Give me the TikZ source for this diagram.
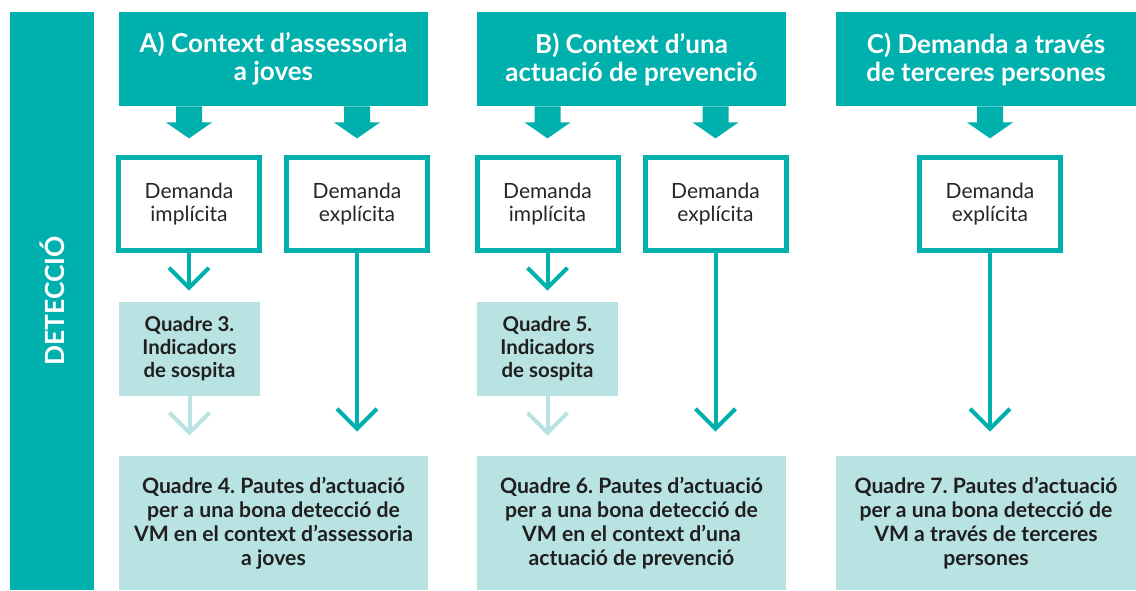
\documentclass[tikz,border=0pt]{standalone}
\usepackage{fontspec}
\setmainfont{Lato}
\usetikzlibrary{arrows.meta}
\frenchspacing
\definecolor{tealdark}{HTML}{00B0AD}
\definecolor{tealpale}{HTML}{B9E2E2}
\tikzset{
  context/.style={fill=tealdark, text=white, inner sep=0pt, align=center,
                  minimum width=154.5pt, minimum height=47pt,
                  font=\bfseries\fontsize{13}{14}\selectfont},
  demand/.style={draw=tealdark, line width=2.5pt, fill=white, inner sep=0pt,
                 minimum width=70.5pt, minimum height=46.5pt, align=center,
                 text=black!85, font=\fontsize{10.5}{11.5}\selectfont},
  guide/.style={fill=tealpale, text=black!88, inner sep=0pt, align=center,
                font=\bfseries\fontsize{10.2}{11.5}\selectfont},
  link/.style={draw=tealdark, line width=2pt,
               -{Straight Barb[length=10pt, width=20pt]}},
  faint/.style={link, draw=tealpale}
}

\begin{document}
\begin{tikzpicture}[x=0.5pt, y=-0.5pt]

        \useasboundingbox (0,0) rectangle (1136,590);

        % --- Side bar
        \node[fill=tealdark, text=white, rotate=90, inner sep=0pt,
              minimum width=289pt, minimum height=42pt,
              font=\bfseries\fontsize{13.2}{14}\selectfont] (det) at (52,301) {DETECCIÓ};

        % --- Contexts
        \node[context] (ctxA) at (273.5,59) {A) Context d’assessoria\\a joves};
        \node[context] (ctxB) at (631.5,59) {B) Context d’una\\actuació de prevenció};
        \node[context, minimum width=150pt] (ctxC) at (986,59) {C) Demanda a través\\de terceres persones};

        % --- Demands
        \node[demand] (impA) at (189,204) {Demanda\\implícita};
        \node[demand] (expA) at (357,204) {Demanda\\explícita};
        \node[demand] (impB) at (547.5,204) {Demanda\\implícita};
        \node[demand] (expB) at (715.5,204) {Demanda\\explícita};
        \node[demand] (expC) at (990,204) {Demanda\\explícita};

        % --- Indicators
        \node[guide, minimum width=70.5pt, minimum height=47pt] (indA) at (189.5,349)
             {Quadre 3.\\Indicadors\\de sospita};
        \node[guide, minimum width=70.5pt, minimum height=47pt] (indB) at (547.5,349)
             {Quadre 5.\\Indicadors\\de sospita};

        % --- Guidelines
        \node[guide, minimum width=154.5pt, minimum height=67pt, font=\bfseries\fontsize{10.6}{12}\selectfont]
             (pauA) at (273.5,523)
             {Quadre 4. Pautes d’actuació\\per a una bona detecció de\\VM en el context d’assessoria\\a joves};
        \node[guide, minimum width=154.5pt, minimum height=67pt, font=\bfseries\fontsize{10.6}{12}\selectfont]
             (pauB) at (631.5,523)
             {Quadre 6. Pautes d’actuació\\per a una bona detecció de\\VM en el context d’una\\actuació de prevenció};
        \node[guide, minimum width=150pt, minimum height=67pt, font=\bfseries\fontsize{10.6}{12}\selectfont]
             (pauC) at (986,523)
             {Quadre 7. Pautes d’actuació\\per a una bona detecció de\\VM a través de terceres\\persones};

        % --- Block arrows context -> demand
        \foreach \h/\t in {ctxA/impA, ctxA/expA, ctxB/impB, ctxB/expB, ctxC/expC}
          \fill[tealdark] (\t.north |- \h.south) ++(-13,0) -- ++(0,16) -- ++(-10,0)
               -- ++(23,16) -- ++(23,-16) -- ++(-10,0) -- ++(0,-16) -- cycle;

        % --- Implicit demand -> indicators -> guidelines
        \draw[link, shorten >=5.5pt] (impA.south) -- (impA.south |- indA.north);
        \draw[link, shorten >=5.5pt] (impB.south) -- (impB.south |- indB.north);
        \draw[faint, shorten >=10pt] (indA.south) -- (indA.south |- pauA.north);
        \draw[faint, shorten >=10pt] (indB.south) -- (indB.south |- pauB.north);

        % --- Explicit demand -> guidelines
        \draw[link, shorten >=12pt] (expA.south) -- (expA.south |- pauA.north);
        \draw[link, shorten >=12pt] (expB.south) -- (expB.south |- pauB.north);
        \draw[link, shorten >=12pt] (expC.south) -- (expC.south |- pauC.north);

\end{tikzpicture}
\end{document}
